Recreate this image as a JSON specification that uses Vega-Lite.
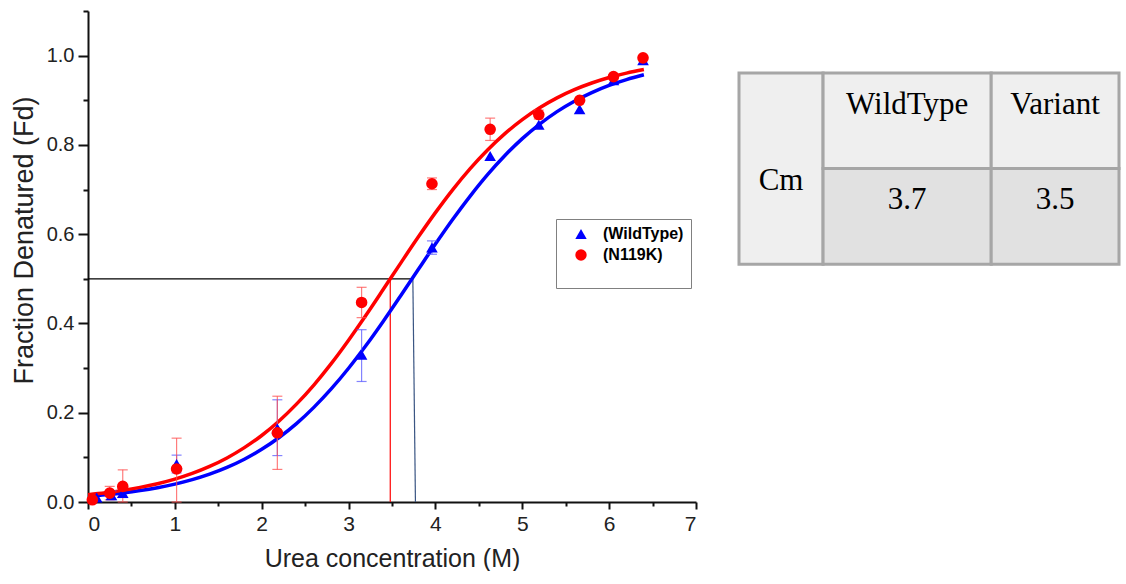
{
  "$schema": "https://vega.github.io/schema/vega-lite/v6.json",
  "padding": {"left": 10, "top": 10, "right": 0, "bottom": 0},
  "background": "white",
  "config": {
    "view": {"stroke": null},
    "font": "Liberation Sans"
  },
  "datasets": {
    "points": [
      {"series": "(WildType)", "conc": 0.1, "fd": 0.01},
      {"series": "(WildType)", "conc": 0.27, "fd": 0.015, "lo": 0.005, "hi": 0.025},
      {"series": "(WildType)", "conc": 0.4, "fd": 0.02, "lo": 0.01, "hi": 0.03},
      {"series": "(WildType)", "conc": 1.02, "fd": 0.085, "lo": 0.065, "hi": 0.105},
      {"series": "(WildType)", "conc": 2.18, "fd": 0.165, "lo": 0.104, "hi": 0.229},
      {"series": "(WildType)", "conc": 3.15, "fd": 0.33, "lo": 0.27, "hi": 0.386},
      {"series": "(WildType)", "conc": 3.96, "fd": 0.57, "lo": 0.555, "hi": 0.585},
      {"series": "(WildType)", "conc": 4.63, "fd": 0.775},
      {"series": "(WildType)", "conc": 5.19, "fd": 0.845},
      {"series": "(WildType)", "conc": 5.66, "fd": 0.88},
      {"series": "(WildType)", "conc": 6.05, "fd": 0.945},
      {"series": "(WildType)", "conc": 6.39, "fd": 0.99},
      {"series": "(N119K)", "conc": 0.05, "fd": 0.005},
      {"series": "(N119K)", "conc": 0.25, "fd": 0.02, "lo": 0.005, "hi": 0.035},
      {"series": "(N119K)", "conc": 0.4, "fd": 0.035, "lo": 0.0, "hi": 0.072},
      {"series": "(N119K)", "conc": 1.02, "fd": 0.074, "lo": 0.0, "hi": 0.143},
      {"series": "(N119K)", "conc": 2.18, "fd": 0.155, "lo": 0.073, "hi": 0.237},
      {"series": "(N119K)", "conc": 3.15, "fd": 0.447, "lo": 0.413, "hi": 0.481},
      {"series": "(N119K)", "conc": 3.96, "fd": 0.713, "lo": 0.7, "hi": 0.726},
      {"series": "(N119K)", "conc": 4.63, "fd": 0.835, "lo": 0.81, "hi": 0.86},
      {"series": "(N119K)", "conc": 5.19, "fd": 0.868, "lo": 0.858, "hi": 0.878},
      {"series": "(N119K)", "conc": 5.66, "fd": 0.9},
      {"series": "(N119K)", "conc": 6.05, "fd": 0.953},
      {"series": "(N119K)", "conc": 6.39, "fd": 0.995}
    ],
    "curves": [
      {"series": "(WildType)", "conc": 0.0, "fd": 0.0129},
      {"series": "(WildType)", "conc": 0.2, "fd": 0.0162},
      {"series": "(WildType)", "conc": 0.4, "fd": 0.0204},
      {"series": "(WildType)", "conc": 0.6, "fd": 0.0256},
      {"series": "(WildType)", "conc": 0.8, "fd": 0.0321},
      {"series": "(WildType)", "conc": 1.0, "fd": 0.0401},
      {"series": "(WildType)", "conc": 1.2, "fd": 0.0501},
      {"series": "(WildType)", "conc": 1.4, "fd": 0.0624},
      {"series": "(WildType)", "conc": 1.6, "fd": 0.0775},
      {"series": "(WildType)", "conc": 1.8, "fd": 0.0959},
      {"series": "(WildType)", "conc": 2.0, "fd": 0.118},
      {"series": "(WildType)", "conc": 2.2, "fd": 0.1445},
      {"series": "(WildType)", "conc": 2.4, "fd": 0.1755},
      {"series": "(WildType)", "conc": 2.6, "fd": 0.212},
      {"series": "(WildType)", "conc": 2.8, "fd": 0.2533},
      {"series": "(WildType)", "conc": 3.0, "fd": 0.2997},
      {"series": "(WildType)", "conc": 3.2, "fd": 0.3506},
      {"series": "(WildType)", "conc": 3.4, "fd": 0.4052},
      {"series": "(WildType)", "conc": 3.6, "fd": 0.4623},
      {"series": "(WildType)", "conc": 3.8, "fd": 0.5203},
      {"series": "(WildType)", "conc": 4.0, "fd": 0.5778},
      {"series": "(WildType)", "conc": 4.2, "fd": 0.6333},
      {"series": "(WildType)", "conc": 4.4, "fd": 0.6854},
      {"series": "(WildType)", "conc": 4.6, "fd": 0.7334},
      {"series": "(WildType)", "conc": 4.8, "fd": 0.7763},
      {"series": "(WildType)", "conc": 5.0, "fd": 0.814},
      {"series": "(WildType)", "conc": 5.2, "fd": 0.8467},
      {"series": "(WildType)", "conc": 5.4, "fd": 0.8746},
      {"series": "(WildType)", "conc": 5.6, "fd": 0.8979},
      {"series": "(WildType)", "conc": 5.8, "fd": 0.9173},
      {"series": "(WildType)", "conc": 6.0, "fd": 0.9334},
      {"series": "(WildType)", "conc": 6.2, "fd": 0.9464},
      {"series": "(WildType)", "conc": 6.4, "fd": 0.9571},
      {"series": "(N119K)", "conc": 0.0, "fd": 0.0164},
      {"series": "(N119K)", "conc": 0.2, "fd": 0.0207},
      {"series": "(N119K)", "conc": 0.4, "fd": 0.026},
      {"series": "(N119K)", "conc": 0.6, "fd": 0.0327},
      {"series": "(N119K)", "conc": 0.8, "fd": 0.041},
      {"series": "(N119K)", "conc": 1.0, "fd": 0.0513},
      {"series": "(N119K)", "conc": 1.2, "fd": 0.064},
      {"series": "(N119K)", "conc": 1.4, "fd": 0.0797},
      {"series": "(N119K)", "conc": 1.6, "fd": 0.0987},
      {"series": "(N119K)", "conc": 1.8, "fd": 0.1218},
      {"series": "(N119K)", "conc": 2.0, "fd": 0.149},
      {"series": "(N119K)", "conc": 2.2, "fd": 0.1815},
      {"series": "(N119K)", "conc": 2.4, "fd": 0.2192},
      {"series": "(N119K)", "conc": 2.6, "fd": 0.262},
      {"series": "(N119K)", "conc": 2.8, "fd": 0.31},
      {"series": "(N119K)", "conc": 3.0, "fd": 0.3625},
      {"series": "(N119K)", "conc": 3.2, "fd": 0.4184},
      {"series": "(N119K)", "conc": 3.4, "fd": 0.4765},
      {"series": "(N119K)", "conc": 3.6, "fd": 0.5352},
      {"series": "(N119K)", "conc": 3.8, "fd": 0.593},
      {"series": "(N119K)", "conc": 4.0, "fd": 0.6483},
      {"series": "(N119K)", "conc": 4.2, "fd": 0.70},
      {"series": "(N119K)", "conc": 4.4, "fd": 0.747},
      {"series": "(N119K)", "conc": 4.6, "fd": 0.7888},
      {"series": "(N119K)", "conc": 4.8, "fd": 0.8254},
      {"series": "(N119K)", "conc": 5.0, "fd": 0.8567},
      {"series": "(N119K)", "conc": 5.2, "fd": 0.8832},
      {"series": "(N119K)", "conc": 5.4, "fd": 0.9054},
      {"series": "(N119K)", "conc": 5.6, "fd": 0.9237},
      {"series": "(N119K)", "conc": 5.8, "fd": 0.9387},
      {"series": "(N119K)", "conc": 6.0, "fd": 0.951},
      {"series": "(N119K)", "conc": 6.2, "fd": 0.9608},
      {"series": "(N119K)", "conc": 6.4, "fd": 0.9688}
    ],
    "guides": [
      {"kind": "half", "xa": 0, "xb": 3.74, "ya": 0.5, "yb": 0.5},
      {"kind": "cmVariant", "xa": 3.48, "xb": 3.48, "ya": 0.5, "yb": 0},
      {"kind": "cmWild", "xa": 3.74, "xb": 3.77, "ya": 0.5, "yb": 0}
    ],
    "table": [
      {"text": "Cm", "kind": "label", "c0": 0, "c1": 1, "r0": 0, "r1": 2, "cx": 0.5, "cy": 1.13},
      {"text": "WildType", "kind": "header", "c0": 1, "c1": 3, "r0": 0, "r1": 1, "cx": 2, "cy": 0.33},
      {"text": "Variant", "kind": "header", "c0": 3, "c1": 4.52, "r0": 0, "r1": 1, "cx": 3.76, "cy": 0.33},
      {"text": "3.7", "kind": "value", "c0": 1, "c1": 3, "r0": 1, "r1": 2, "cx": 2, "cy": 1.33},
      {"text": "3.5", "kind": "value", "c0": 3, "c1": 4.52, "r0": 1, "r1": 2, "cx": 3.76, "cy": 1.33}
    ]
  },
  "hconcat": [
    {
      "width": 608,
      "height": 491,
      "resolve": {"axis": {"x": "independent", "y": "independent"}},
      "layer": [
        {
          "data": {"name": "guides"},
          "mark": {"type": "rule", "strokeWidth": 1.2},
          "encoding": {
            "x": {"field": "xa", "type": "quantitative", "scale": {"domain": [0, 7], "nice": false},
              "axis": {"orient": "bottom", "values": [0, 1, 2, 3, 4, 5, 6, 7], "format": "d", "tickSize": 7, "tickWidth": 2, "domainWidth": 2, "domainColor": "#111", "tickColor": "#111", "labelFontSize": 21, "labelColor": "#222", "labelPadding": 4, "title": "Urea concentration (M)", "titleFontSize": 25, "titleFontWeight": "normal", "titleColor": "#222", "titlePadding": 12, "grid": false}},
            "x2": {"field": "xb"},
            "y": {"field": "ya", "type": "quantitative", "scale": {"domain": [0, 1.1], "nice": false},
              "axis": {"orient": "left", "values": [0, 0.2, 0.4, 0.6, 0.8, 1.0], "format": ".1f", "tickSize": 10, "tickWidth": 2, "domainWidth": 2, "domainColor": "#111", "tickColor": "#111", "labelFontSize": 20, "labelColor": "#222", "labelPadding": 4, "title": "Fraction Denatured (Fd)", "titleFontSize": 27, "titleFontWeight": "normal", "titleColor": "#222", "titlePadding": 8, "titleY": 229, "grid": false}},
            "y2": {"field": "yb"},
            "stroke": {"field": "kind", "type": "nominal", "scale": {"domain": ["(WildType)", "(N119K)", "half", "cmVariant", "cmWild"], "range": ["#0000ff", "#ff0000", "#000000", "#ff0000", "#3a5583"]}, "legend": null}
          }
        },
        {
          "data": {"name": "curves"},
          "mark": {"type": "line", "strokeWidth": 3.5, "interpolate": "monotone"},
          "encoding": {
            "x": {"field": "conc", "type": "quantitative", "scale": {"domain": [0, 7], "nice": false},
              "axis": {"orient": "bottom", "values": [0.5, 1.5, 2.5, 3.5, 4.5, 5.5, 6.5], "labels": false, "domain": false, "tickSize": 4, "tickWidth": 2, "tickColor": "#111", "title": null, "grid": false}},
            "y": {"field": "fd", "type": "quantitative", "scale": {"domain": [0, 1.1], "nice": false},
              "axis": {"orient": "left", "values": [0.1, 0.3, 0.5, 0.7, 0.9, 1.1], "labels": false, "domain": false, "tickSize": 5, "tickWidth": 2, "tickColor": "#111", "title": null, "grid": false}},
            "detail": {"field": "series", "type": "nominal"},
            "stroke": {"field": "series", "type": "nominal", "scale": {"domain": ["(WildType)", "(N119K)", "half", "cmVariant", "cmWild"], "range": ["#0000ff", "#ff0000", "#000000", "#ff0000", "#3a5583"]}, "legend": null}
          }
        },
        {
          "data": {"name": "points"},
          "transform": [{"filter": "datum.series == '(WildType)' && isValid(datum.lo)"}],
          "mark": {"type": "errorbar", "ticks": {"size": 10}, "color": "#5a5aff", "opacity": 0.75, "thickness": 1.2},
          "encoding": {
            "x": {"field": "conc", "type": "quantitative", "scale": {"domain": [0, 7], "nice": false}, "axis": null},
            "y": {"field": "lo", "type": "quantitative", "scale": {"domain": [0, 1.1], "nice": false}, "axis": null},
            "y2": {"field": "hi"}
          }
        },
        {
          "data": {"name": "points"},
          "transform": [{"filter": "datum.series == '(N119K)' && isValid(datum.lo)"}],
          "mark": {"type": "errorbar", "ticks": {"size": 10}, "color": "#ff5050", "opacity": 0.75, "thickness": 1.2},
          "encoding": {
            "x": {"field": "conc", "type": "quantitative", "scale": {"domain": [0, 7], "nice": false}, "axis": null},
            "y": {"field": "lo", "type": "quantitative", "scale": {"domain": [0, 1.1], "nice": false}, "axis": null},
            "y2": {"field": "hi"}
          }
        },
        {
          "data": {"name": "points"},
          "mark": {"type": "point", "filled": true, "opacity": 1, "size": 135},
          "encoding": {
            "x": {"field": "conc", "type": "quantitative", "scale": {"domain": [0, 7], "nice": false}, "axis": null},
            "y": {"field": "fd", "type": "quantitative", "scale": {"domain": [0, 1.1], "nice": false}, "axis": null},
            "color": {"field": "series", "type": "nominal", "sort": null, "scale": {"domain": ["(WildType)", "(N119K)"], "range": ["#0000ff", "#ff0000"]},
              "legend": {"orient": "none", "legendX": 468, "legendY": 208, "title": " ", "titleOrient": "bottom", "titleFontSize": 14, "titlePadding": 4, "strokeColor": "#808080", "fillColor": "white", "padding": 7, "labelFontSize": 16, "labelFontWeight": "bold", "labelOffset": 14, "rowPadding": 5, "symbolSize": 130, "symbolOffset": 10, "labelLimit": 200,
                "encode": {"legend": {"update": {"strokeWidth": {"value": 2}}}, "labels": {"update": {"fill": {"signal": "datum.label == '(WildType)' ? '#0000ff' : '#ff0000'"}}}}}},
            "shape": {"field": "series", "type": "nominal", "sort": null, "scale": {"domain": ["(WildType)", "(N119K)"], "range": ["triangle-up", "circle"]}}
          }
        }
      ]
    },
    {
      "width": 380,
      "height": 491,
      "data": {"name": "table"},
      "layer": [
        {
          "mark": {"type": "rect", "stroke": "#a6a6a6", "strokeWidth": 3},
          "encoding": {
            "x": {"field": "c0", "type": "quantitative", "scale": {"domain": [0, 4.52], "nice": false, "zero": false}, "axis": null},
            "x2": {"field": "c1"},
            "y": {"field": "r0", "type": "quantitative", "scale": {"domain": [-0.65, 4.49], "nice": false, "zero": false, "reverse": true}, "axis": null},
            "y2": {"field": "r1"},
            "fill": {"field": "kind", "type": "nominal", "scale": {"domain": ["label", "header", "value"], "range": ["#efefef", "#efefef", "#e1e1e1"]}, "legend": null}
          }
        },
        {
          "mark": {"type": "text", "font": "Liberation Serif", "fontSize": 31, "color": "#000", "align": "center", "baseline": "middle"},
          "encoding": {
            "x": {"field": "cx", "type": "quantitative", "scale": {"domain": [0, 4.52], "nice": false, "zero": false}, "axis": null},
            "y": {"field": "cy", "type": "quantitative", "scale": {"domain": [-0.65, 4.49], "nice": false, "zero": false, "reverse": true}, "axis": null},
            "text": {"field": "text", "type": "nominal"}
          }
        }
      ]
    }
  ],
  "spacing": 40,
  "resolve": {"scale": {"color": "independent", "fill": "independent", "stroke": "independent", "shape": "independent"}, "legend": {"color": "independent", "shape": "independent"}}
}
